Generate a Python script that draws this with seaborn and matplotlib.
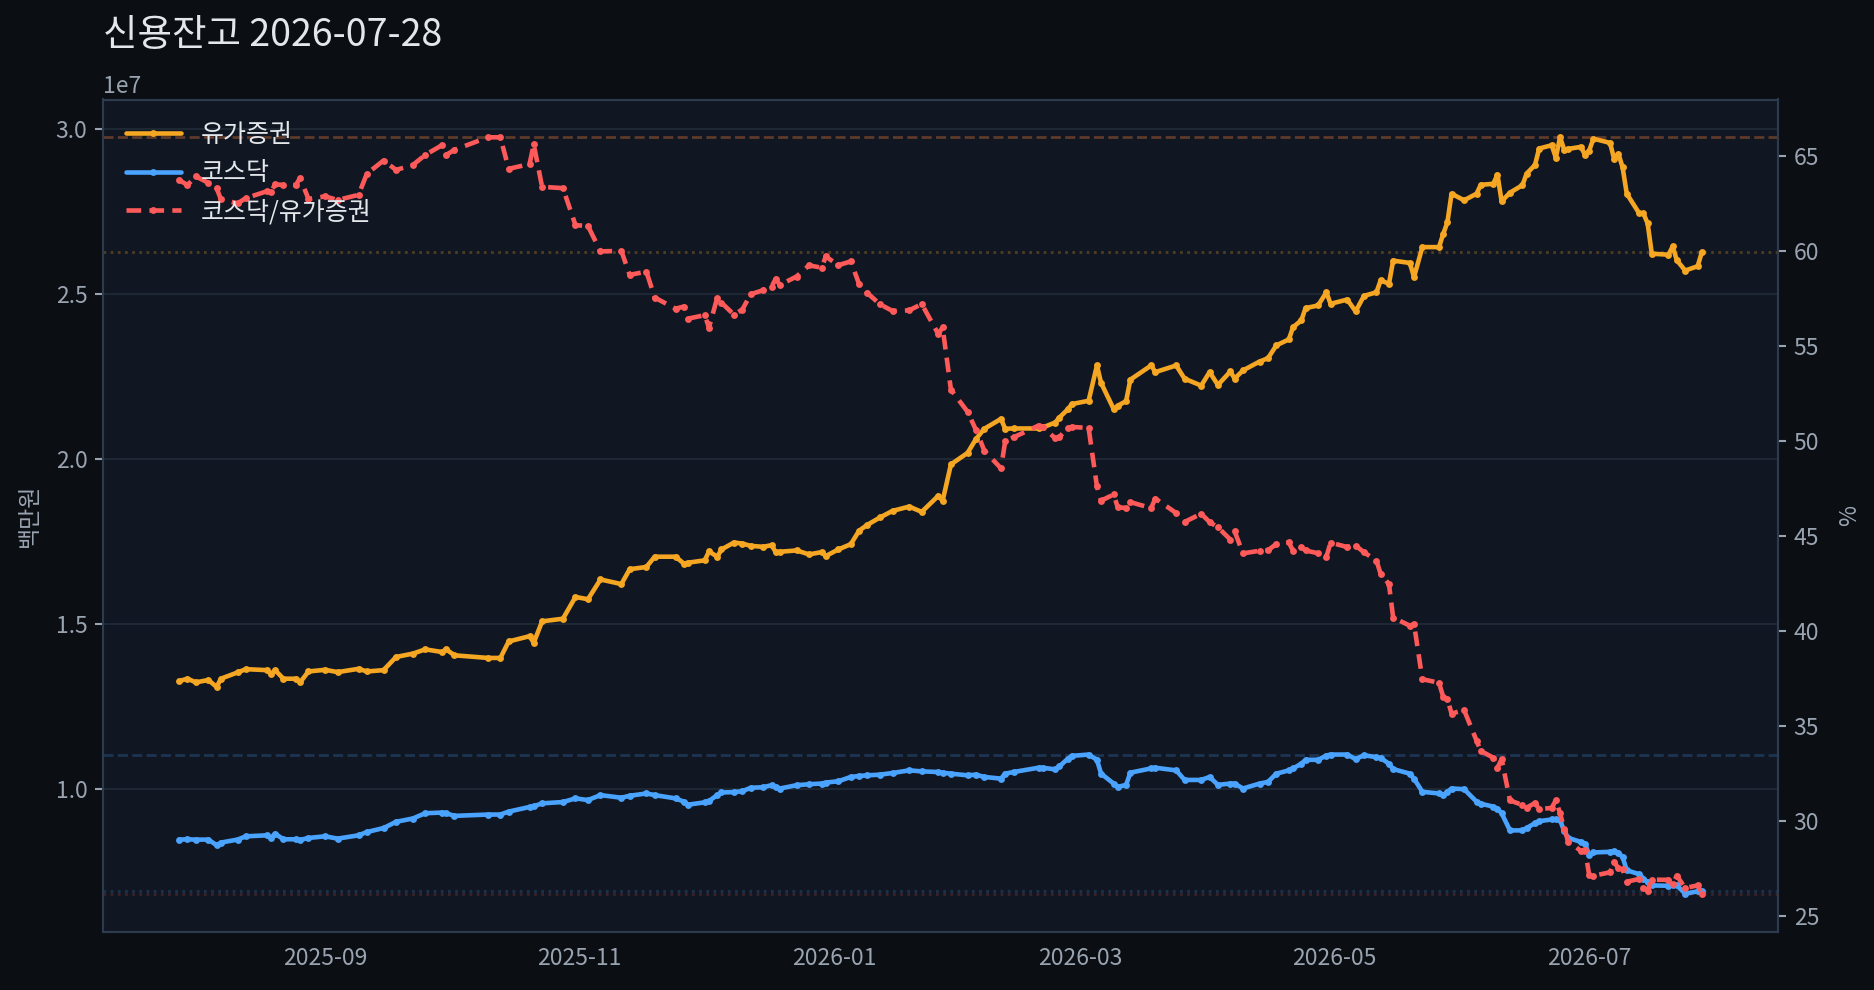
import numpy as np
import pandas as pd
import matplotlib
matplotlib.use("Agg")
import matplotlib.pyplot as plt
import matplotlib.dates as mdates
import seaborn as sns

# ---------------- data (조원; plotted in 백만원) ----------------
dates = [
    "2025-07-28", "2025-07-30", "2025-08-01", "2025-08-04", "2025-08-06", "2025-08-07",
    "2025-08-11", "2025-08-13", "2025-08-18", "2025-08-19", "2025-08-20", "2025-08-22",
    "2025-08-25", "2025-08-26", "2025-08-28", "2025-09-01", "2025-09-04", "2025-09-09",
    "2025-09-11", "2025-09-15", "2025-09-18", "2025-09-22", "2025-09-25", "2025-09-29",
    "2025-09-30", "2025-10-02", "2025-10-10", "2025-10-13", "2025-10-15", "2025-10-20",
    "2025-10-21", "2025-10-23", "2025-10-28", "2025-10-31", "2025-11-03", "2025-11-06",
    "2025-11-11", "2025-11-13", "2025-11-17", "2025-11-19", "2025-11-24", "2025-11-26",
    "2025-11-27", "2025-12-01", "2025-12-02", "2025-12-04", "2025-12-05", "2025-12-08",
    "2025-12-10", "2025-12-12", "2025-12-15", "2025-12-17", "2025-12-18", "2025-12-19",
    "2025-12-23", "2025-12-26", "2025-12-29", "2025-12-30", "2026-01-02", "2026-01-05",
    "2026-01-07", "2026-01-09", "2026-01-12", "2026-01-15", "2026-01-19", "2026-01-22",
    "2026-01-26", "2026-01-27", "2026-01-29", "2026-02-02", "2026-02-04", "2026-02-06",
    "2026-02-10", "2026-02-11", "2026-02-13", "2026-02-19", "2026-02-20", "2026-02-23",
    "2026-02-24", "2026-02-26", "2026-02-27", "2026-03-03", "2026-03-05", "2026-03-06",
    "2026-03-09", "2026-03-10", "2026-03-12", "2026-03-13", "2026-03-18", "2026-03-19",
    "2026-03-24", "2026-03-26", "2026-03-30", "2026-04-01", "2026-04-03", "2026-04-06",
    "2026-04-07", "2026-04-09", "2026-04-13", "2026-04-15", "2026-04-17", "2026-04-20",
    "2026-04-21", "2026-04-23", "2026-04-24", "2026-04-27", "2026-04-29", "2026-04-30",
    "2026-05-04", "2026-05-06", "2026-05-08", "2026-05-11", "2026-05-12", "2026-05-14",
    "2026-05-15", "2026-05-19", "2026-05-20", "2026-05-22", "2026-05-26", "2026-05-27",
    "2026-05-28", "2026-05-29", "2026-06-01", "2026-06-04", "2026-06-05", "2026-06-08",
    "2026-06-09", "2026-06-10", "2026-06-12", "2026-06-15", "2026-06-16", "2026-06-18",
    "2026-06-19", "2026-06-22", "2026-06-23", "2026-06-24", "2026-06-25", "2026-06-26",
    "2026-06-29", "2026-06-30", "2026-07-01", "2026-07-02", "2026-07-06", "2026-07-07",
    "2026-07-08", "2026-07-09", "2026-07-10", "2026-07-13", "2026-07-14", "2026-07-15",
    "2026-07-16", "2026-07-20", "2026-07-21", "2026-07-22", "2026-07-24", "2026-07-27",
    "2026-07-28",
]

kospi_jo = [
    13.26, 13.33, 13.22, 13.29, 13.08, 13.33,
    13.52, 13.62, 13.59, 13.47, 13.59, 13.33,
    13.33, 13.22, 13.55, 13.60, 13.53, 13.63,
    13.55, 13.59, 13.99, 14.09, 14.22, 14.14,
    14.22, 14.04, 13.96, 13.96, 14.46, 14.62,
    14.42, 15.07, 15.15, 15.81, 15.74, 16.34,
    16.20, 16.65, 16.72, 17.03, 17.03, 16.82,
    16.85, 16.92, 17.19, 17.03, 17.25, 17.46,
    17.43, 17.36, 17.33, 17.38, 17.17, 17.18,
    17.22, 17.10, 17.17, 17.05, 17.25, 17.41,
    17.82, 18.00, 18.22, 18.42, 18.55, 18.39,
    18.88, 18.72, 19.83, 20.18, 20.60, 20.91,
    21.21, 20.91, 20.92, 20.92, 20.95, 21.10,
    21.25, 21.50, 21.66, 21.76, 22.83, 22.30,
    21.51, 21.61, 21.75, 22.40, 22.83, 22.63,
    22.83, 22.43, 22.22, 22.63, 22.24, 22.65,
    22.43, 22.68, 22.95, 23.05, 23.44, 23.62,
    23.99, 24.20, 24.57, 24.65, 25.05, 24.70,
    24.83, 24.47, 24.94, 25.05, 25.41, 25.31,
    26.01, 25.94, 25.51, 26.42, 26.42, 26.82,
    27.17, 28.04, 27.84, 28.04, 28.31, 28.34,
    28.62, 27.81, 28.07, 28.30, 28.65, 28.91,
    29.41, 29.51, 29.13, 29.75, 29.38, 29.40,
    29.46, 29.22, 29.35, 29.71, 29.58, 29.08,
    29.25, 28.84, 28.04, 27.44, 27.44, 27.14,
    26.22, 26.19, 26.44, 26.02, 25.71, 25.84,
    26.27,
]

kosdaq_jo = [
    8.45, 8.46, 8.45, 8.45, 8.28, 8.36,
    8.45, 8.55, 8.58, 8.50, 8.63, 8.46,
    8.46, 8.44, 8.50, 8.55, 8.48, 8.58,
    8.68, 8.80, 8.99, 9.09, 9.25, 9.27,
    9.25, 9.17, 9.21, 9.21, 9.30, 9.44,
    9.46, 9.55, 9.59, 9.70, 9.65, 9.80,
    9.72, 9.78, 9.85, 9.80, 9.70, 9.60,
    9.51, 9.58, 9.62, 9.80, 9.88, 9.89,
    9.92, 10.02, 10.04, 10.10, 10.05, 10.00,
    10.10, 10.13, 10.15, 10.18, 10.22, 10.35,
    10.38, 10.40, 10.42, 10.47, 10.55, 10.52,
    10.50, 10.48, 10.45, 10.40, 10.42, 10.35,
    10.30, 10.45, 10.50, 10.63, 10.63, 10.58,
    10.67, 10.90, 10.99, 11.03, 10.87, 10.45,
    10.15, 10.05, 10.11, 10.48, 10.61, 10.63,
    10.55, 10.26, 10.26, 10.35, 10.11, 10.15,
    10.15, 10.00, 10.15, 10.20, 10.45, 10.55,
    10.61, 10.75, 10.87, 10.87, 11.00, 11.03,
    11.03, 10.89, 11.01, 10.95, 10.93, 10.75,
    10.59, 10.45, 10.30, 9.90, 9.85, 9.80,
    9.90, 10.00, 9.98, 9.60, 9.54, 9.45,
    9.39, 9.25, 8.73, 8.73, 8.80, 8.95,
    9.01, 9.06, 9.06, 9.05, 8.70, 8.50,
    8.38, 8.33, 7.97, 8.06, 8.08, 8.10,
    8.05, 7.92, 7.52, 7.40, 7.27, 7.15,
    7.06, 7.05, 7.06, 7.06, 6.81, 6.88,
    6.88,
]

TITLE = "신용잔고 2026-07-28"
LBL_KOSPI = "유가증권"
LBL_KOSDAQ = "코스닥"
LBL_RATIO = "코스닥/유가증권"
YLABEL_LEFT = "백만원"
YLABEL_RIGHT = "%"
JO_TO_MILLION = 1e6  # 1조원 = 1,000,000 백만원

# ---------------- styling ----------------
BG_FIG = "#0b0e13"
BG_AX = "#111722"
C_K = "#f5a623"
C_Q = "#4aa3ff"
C_R = "#ff5a5a"
GRID = "#1e2734"
SPINE = "#2c3b4e"
TICK = "#9aa4b1"
TEXT = "#e3e6ea"

sns.set_style("dark")
plt.rcParams["font.family"] = ["Noto Sans CJK KR", "DejaVu Sans"]
plt.rcParams["axes.unicode_minus"] = False

df = pd.DataFrame({
    "date": pd.to_datetime(dates),
    "kospi": np.array(kospi_jo) * JO_TO_MILLION,
    "kosdaq": np.array(kosdaq_jo) * JO_TO_MILLION,
})
df["ratio"] = df["kosdaq"] / df["kospi"] * 100

W, H, DPI = 1874, 990, 150
fig = plt.figure(figsize=(W / DPI, H / DPI), dpi=DPI, facecolor=BG_FIG)
ax = fig.add_axes([103 / W, 1 - 931.5 / H, (1778 - 103) / W, (931.5 - 99.5) / H])
ax.set_facecolor(BG_AX)
ax2 = ax.twinx()

LW = 2.2
MS = 3.3
sns.lineplot(data=df, x="date", y="kospi", ax=ax, color=C_K, linewidth=LW,
             marker="o", markersize=MS, markeredgewidth=0, label=LBL_KOSPI, legend=False)
sns.lineplot(data=df, x="date", y="kosdaq", ax=ax, color=C_Q, linewidth=LW,
             marker="o", markersize=MS, markeredgewidth=0, label=LBL_KOSDAQ, legend=False)
sns.lineplot(data=df, x="date", y="ratio", ax=ax2, color=C_R, linewidth=LW,
             linestyle=(0, (3.2, 1.8)), marker="o", markersize=MS, markeredgewidth=0,
             label=LBL_RATIO, legend=False)

# reference lines: max (dashed) and last (dotted)
ax.axhline(df["kospi"].max(), color=C_K, ls="--", lw=1.3, alpha=0.22, zorder=1)
ax.axhline(df["kospi"].iloc[-1], color=C_K, ls=":", lw=1.3, alpha=0.28, zorder=1)
ax.axhline(df["kosdaq"].max(), color=C_Q, ls="--", lw=1.3, alpha=0.22, zorder=1)
ax.axhline(df["kosdaq"].iloc[-1], color=C_Q, ls=":", lw=1.3, alpha=0.2, zorder=1)
ax2.axhline(df["ratio"].max(), color=C_R, ls="--", lw=1.3, alpha=0.15, zorder=1)
ax2.axhline(df["ratio"].iloc[-1], color=C_R, ls=":", lw=1.3, alpha=0.18, zorder=1)

# axes cosmetics
ax.grid(True, axis="y", color=GRID, linewidth=1.0)
ax.grid(False, axis="x")
ax2.grid(False)
for a in (ax, ax2):
    for s in a.spines.values():
        s.set_color(SPINE)
        s.set_linewidth(1.0)
        s.set_visible(True)
    a.tick_params(colors=TICK, labelsize=11, length=4, width=1, direction="out")
    a.set_xlabel("")
ax.yaxis.get_offset_text().set_color(TICK)
ax.yaxis.get_offset_text().set_fontsize(11)

ax.xaxis.set_major_locator(mdates.MonthLocator(bymonth=[1, 3, 5, 7, 9, 11]))
ax.xaxis.set_major_formatter(mdates.DateFormatter("%Y-%m"))

ax.set_ylabel(YLABEL_LEFT, color=TICK, fontsize=11, labelpad=7)
ax2.set_ylabel(YLABEL_RIGHT, color=TICK, fontsize=11, labelpad=9)

# legend (combined)
h1, l1 = ax.get_legend_handles_labels()
h2, l2 = ax2.get_legend_handles_labels()
leg = ax2.legend(h1 + h2, l1 + l2, loc="upper left", frameon=False, fontsize=12,
                 handlelength=2.2)
for t in leg.get_texts():
    t.set_color(TEXT)

fig.text(103 / W, 1 - 46 / H, TITLE, color=TEXT, fontsize=18, ha="left", va="baseline")

fig.savefig("out.png", dpi=DPI, facecolor=BG_FIG)
